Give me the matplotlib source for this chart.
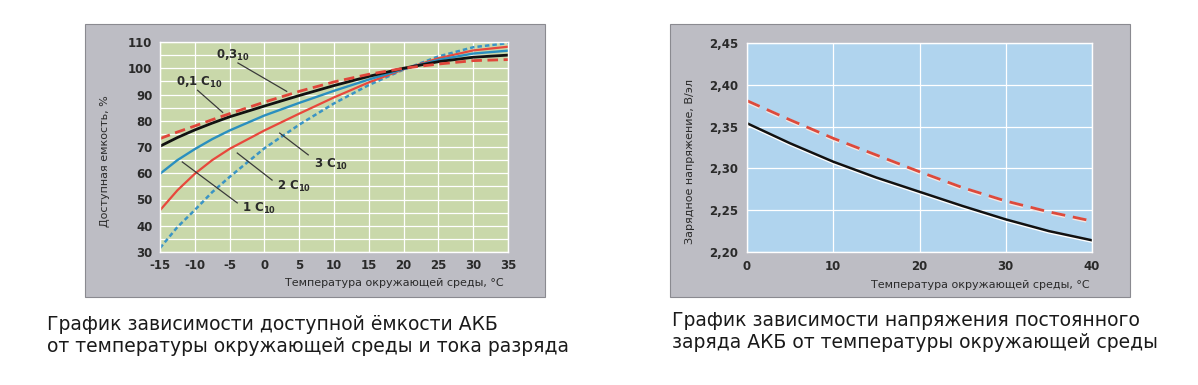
import matplotlib
matplotlib.use("Agg")
import matplotlib.pyplot as plt
from matplotlib.patches import Rectangle
import matplotlib.patheffects as pe

# ---------------- data ----------------
temp_left = [-15, -12.5, -10, -7.5, -5, 0, 5, 10, 15, 20, 25, 30, 35]
cap_03 = [73.2, 75.7, 78.0, 80.4, 82.7, 87.1, 91.2, 94.8, 97.7, 100.0, 101.6, 102.9, 103.3]
cap_01 = [70.3, 73.6, 76.5, 79.1, 81.5, 85.6, 89.6, 93.4, 96.9, 100.0, 102.5, 104.2, 105.0]
cap_1 = [59.8, 65.0, 69.2, 73.0, 76.3, 82.0, 86.8, 91.4, 95.7, 99.7, 103.2, 105.6, 106.7]
cap_2 = [45.9, 53.5, 59.8, 65.0, 69.3, 76.3, 82.7, 88.9, 94.6, 99.6, 103.8, 106.8, 108.2]
cap_3 = [31.5, 39.5, 46.0, 52.8, 58.6, 69.5, 78.5, 86.6, 93.6, 99.5, 104.5, 108.0, 109.6]

temp_right = [0, 5, 10, 15, 20, 25, 30, 35, 40]
volt_dash = [2.381, 2.358, 2.336, 2.316, 2.296, 2.277, 2.261, 2.248, 2.237]
volt_solid = [2.354, 2.330, 2.308, 2.289, 2.272, 2.255, 2.239, 2.225, 2.214]

left_xticks = [-15, -10, -5, 0, 5, 10, 15, 20, 25, 30, 35]
left_yticks = [30, 40, 50, 60, 70, 80, 90, 100, 110]
right_xticks = [0, 10, 20, 30, 40]
right_yticks = [2.20, 2.25, 2.30, 2.35, 2.40, 2.45]

W, H = 1198, 385
fig = plt.figure(figsize=(W / 100, H / 100), dpi=100)
fig.patch.set_facecolor("white")

def fx(px):
    return px / W

def fy(py):
    return 1 - py / H

panel_color = "#bdbdc4"
for (x0, x1) in [(85, 545), (670, 1130)]:
    fig.patches.append(Rectangle((fx(x0), fy(297)), fx(x1 - x0), (297 - 24) / H,
                                 transform=fig.transFigure, facecolor=panel_color,
                                 edgecolor="#8a8a90", linewidth=0.8, zorder=-5))

tick_font = dict(family="DejaVu Sans", size=8.5, weight="bold", color="#2a2a2a")
lab_font = dict(family="DejaVu Sans", size=8, color="#2a2a2a")

# ---------------- left chart ----------------
ax1 = fig.add_axes([fx(160), fy(252), fx(348), (252 - 42) / H])
ax1.set_zorder(2)
ax1.set_facecolor("#c9d8aa")
ax1.set_xlim(-15, 35)
ax1.set_ylim(30, 110)
ax1.set_xticks(left_xticks)
ax1.set_yticks(left_yticks)
ax1.set_yticks(range(35, 110, 10), minor=True)
ax1.grid(True, which="both", color="white", linewidth=0.9)
ax1.set_axisbelow(True)
for s in ax1.spines.values():
    s.set_color("white")
    s.set_linewidth(1)
ax1.tick_params(which="both", length=0)
ax1.tick_params(axis="y", pad=5.5)
ax1.tick_params(axis="x", pad=5)
ax1.set_xticklabels([str(v) for v in left_xticks], **tick_font)
ax1.set_yticklabels([str(v) for v in left_yticks], **tick_font)

ax1.plot(temp_left, cap_3, color="#3a94c4", lw=1.8, dashes=(1.8, 1.2))
ax1.plot(temp_left, cap_2, color="#e8483c", lw=1.6)
ax1.plot(temp_left, cap_1, color="#2a8fbf", lw=1.7)
ax1.plot(temp_left, cap_01, color="#111111", lw=2.0)
ax1.plot(temp_left, cap_03, color="#e0463a", lw=2.0, dashes=(3.8, 2.0))

ann_font = dict(family="DejaVu Sans", size=8.5, weight="bold", color="#2a2a2a")
labels = [
    (r"0,3$_{\mathregular{10}}$", (-4.5, 104.7), (-3.8, 102.0), (3.2, 91.2)),
    (r"0,1 C$_{\mathregular{10}}$", (-9.4, 94.4), (-9.6, 91.6), (-6.0, 83.2)),
    (r"3 C$_{\mathregular{10}}$", (9.6, 63.5), (6.3, 67.0), (2.2, 75.3)),
    (r"2 C$_{\mathregular{10}}$", (4.3, 55.1), (1.1, 57.4), (-3.9, 67.7)),
    (r"1 C$_{\mathregular{10}}$", (-0.8, 46.4), (-3.9, 48.7), (-11.8, 64.3)),
]
for txt, tpos, p0, p1 in labels:
    ax1.text(tpos[0], tpos[1], txt, ha="center", va="center", **ann_font)
    ax1.plot([p0[0], p1[0]], [p0[1], p1[1]], color="#3a3a3a", lw=0.9)

fig.text(fx(105), fy(161), "Доступная емкость, %", rotation=90, ha="center", va="center", **lab_font)
fig.text(fx(504), fy(283), "Температура окружающей среды, °C", ha="right", va="center", **lab_font)

# ---------------- right chart ----------------
ax2 = fig.add_axes([fx(747), fy(252), fx(345), (252 - 43) / H])
ax2.set_zorder(2)
ax2.set_facecolor("#b0d4ee")
ax2.set_xlim(0, 40)
ax2.set_ylim(2.20, 2.45)
ax2.set_xticks(right_xticks)
ax2.set_yticks(right_yticks)
ax2.grid(True, color="white", linewidth=0.9)
ax2.set_axisbelow(True)
for s in ax2.spines.values():
    s.set_color("white")
    s.set_linewidth(1)
ax2.tick_params(length=0)
ax2.tick_params(axis="y", pad=6.5)
ax2.tick_params(axis="x", pad=6)
ax2.set_xticklabels([str(v) for v in right_xticks], **tick_font)
ax2.set_yticklabels([f"{v:.2f}".replace(".", ",") for v in right_yticks], **tick_font)

ax2.plot(temp_right, volt_dash, color="#dc4a3c", lw=2.0, dashes=(5, 2.8),
         path_effects=[pe.Stroke(linewidth=2.8, foreground="#f4e8e4", offset=(0, -0.6)), pe.Normal()])
ax2.plot(temp_right, volt_solid, color="#111111", lw=1.8,
         path_effects=[pe.Stroke(linewidth=2.4, foreground="white", offset=(0, -0.7)), pe.Normal()])

fig.text(fx(690), fy(161), "Зарядное напряжение, В/эл", rotation=90, ha="center", va="center", **lab_font)
fig.text(fx(1090), fy(285), "Температура окружающей среды, °C", ha="right", va="center", **lab_font)

# ---------------- captions ----------------
cap_font = dict(family="DejaVu Sans", size=13.5, weight="medium", color="#1a1a1a")
fig.text(fx(47), fy(325), "График зависимости доступной ёмкости АКБ", ha="left", va="center", **cap_font)
fig.text(fx(47), fy(346), "от температуры окружающей среды и тока разряда", ha="left", va="center", **cap_font)
fig.text(fx(672), fy(321), "График зависимости напряжения постоянного", ha="left", va="center", **cap_font)
fig.text(fx(672), fy(342), "заряда АКБ от температуры окружающей среды", ha="left", va="center", **cap_font)

fig.savefig("out.png", dpi=100)
